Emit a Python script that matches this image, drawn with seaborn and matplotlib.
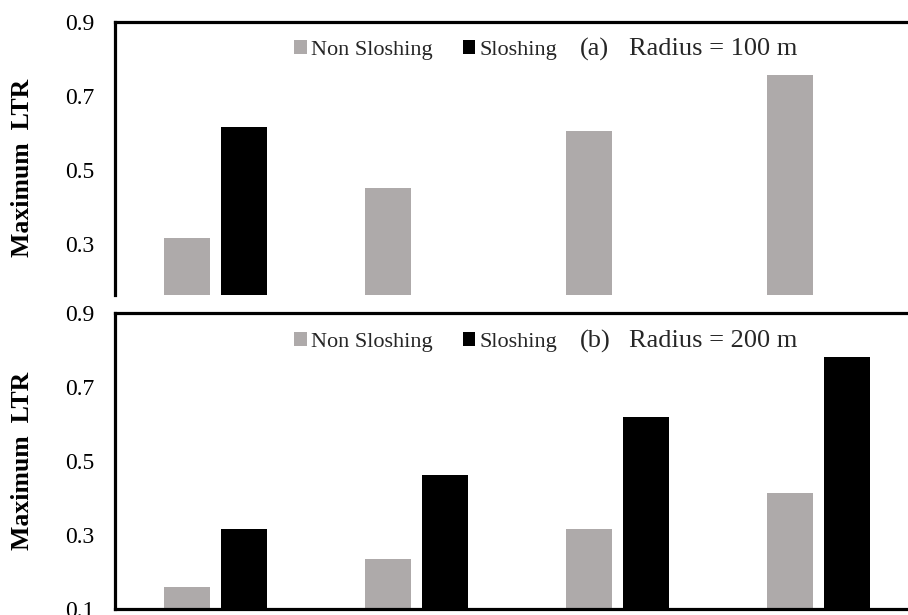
import numpy as np
import pandas as pd
import matplotlib
matplotlib.use("Agg")
import matplotlib.pyplot as plt
import seaborn as sns
from matplotlib.patches import Patch

# datos
cases = ["C1", "C2", "C3", "C4"]
series = ["Non Sloshing", "Sloshing"]
top_non = [0.318, 0.453, 0.604, 0.755]
top_slosh = [0.615, np.nan, np.nan, np.nan]
bot_non = [0.159, 0.234, 0.315, 0.413]
bot_slosh = [0.315, 0.462, 0.619, 0.781]
top_ticks = [0.3, 0.5, 0.7, 0.9]
bot_ticks = [0.1, 0.3, 0.5, 0.7, 0.9]
titles = [("(a)", "Radius = 100 m"), ("(b)", "Radius = 200 m")]

colors = {"Non Sloshing": "#AEAAAA", "Sloshing": "#000000"}


def make_df(non, slosh):
    return pd.DataFrame({
        "case": cases * 2,
        "serie": [series[0]] * 4 + [series[1]] * 4,
        "ltr": list(non) + list(slosh),
    })


sns.set_theme(style="white")
plt.rcParams["font.family"] = ["Liberation Serif", "DejaVu Serif"]

W, H = 908, 615
fig = plt.figure(figsize=(W / 100, H / 100), dpi=100)

left = 115 / W
width = 804 / W
ax_top = fig.add_axes([left, 1 - 295 / H, width, (295 - 21.5) / H])
ax_bot = fig.add_axes([left, 1 - 609 / H, width, (609 - 313) / H])

panels = [
    (ax_top, make_df(top_non, top_slosh), (0.9 - (295 - 21.5) / 371.5, 0.9), top_ticks, 0.464, 50),
    (ax_bot, make_df(bot_non, bot_slosh), (0.1, 0.9), bot_ticks, 0.5, 342),
]

for i, (ax, df, ylim, ticks, lab_y, leg_y) in enumerate(panels):
    sns.barplot(data=df, x="case", y="ltr", hue="serie", hue_order=series,
                palette=colors, width=0.567, gap=0.176, errorbar=None,
                saturation=1, linewidth=0, legend=False, ax=ax)
    ax.set_ylim(*ylim)
    ax.set_xlim(-0.5, 3.5)
    ax.set_yticks(ticks)
    ax.set_yticklabels([f"{t:.1f}" for t in ticks])
    ax.set_xticks([])
    ax.set_xlabel("")
    ax.tick_params(axis="y", length=0, pad=15, labelsize=17, colors="black")
    ax.set_ylabel("Maximum  LTR", fontsize=18.5, fontweight="bold", color="black")
    ax.yaxis.set_label_coords(-0.101, lab_y)

    for side in ["left", "top", "bottom", "right"]:
        ax.spines[side].set_color("black")
        ax.spines[side].set_linewidth(2.3)
    ax.spines["right"].set_visible(False)
    if i == 0:
        ax.spines["bottom"].set_visible(False)

    handles = [Patch(facecolor=colors[s], edgecolor="none") for s in series]
    fig.legend(handles, series, loc="center left",
               bbox_to_anchor=(294 / W, 1 - leg_y / H), ncol=2, frameon=False,
               fontsize=16, handlelength=0.58, handleheight=0.58,
               handletextpad=0.18, columnspacing=1.35, borderpad=0,
               borderaxespad=0)
    fig.text(580 / W, 1 - (leg_y - 1) / H, titles[i][0], fontsize=19,
             ha="left", va="center")
    fig.text(629 / W, 1 - (leg_y - 1) / H, titles[i][1], fontsize=19,
             ha="left", va="center")

fig.savefig("out.png", dpi=100)
